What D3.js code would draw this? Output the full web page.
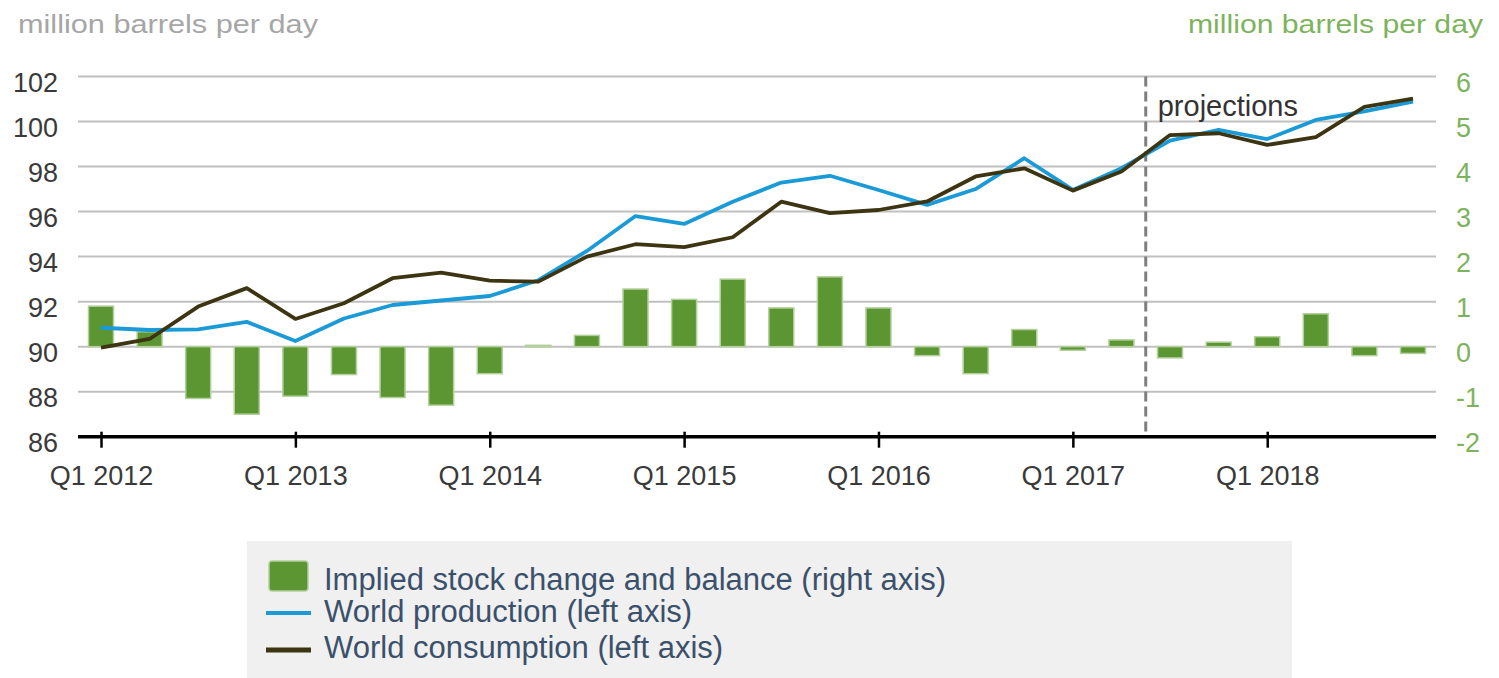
<!DOCTYPE html>
<html>
<head>
<meta charset="utf-8">
<script src="https://cdn.jsdelivr.net/npm/d3@7"></script>
<style>
  body { margin: 0; background: #fff; }
  svg { display: block; font-family: "Liberation Sans", Arial, sans-serif; }
</style>
</head>
<body>
<div id="chart"></div>
<script>
// quarters on the x axis
const quarters = [
  "2012Q1", "2012Q2", "2012Q3", "2012Q4",
  "2013Q1", "2013Q2", "2013Q3", "2013Q4",
  "2014Q1", "2014Q2", "2014Q3", "2014Q4",
  "2015Q1", "2015Q2", "2015Q3", "2015Q4",
  "2016Q1", "2016Q2", "2016Q3", "2016Q4",
  "2017Q1", "2017Q2", "2017Q3", "2017Q4",
  "2018Q1", "2018Q2", "2018Q3", "2018Q4"
];
const tickQuarters = ["2012Q1", "2013Q1", "2014Q1", "2015Q1", "2016Q1", "2017Q1", "2018Q1"];
const tickLabels = ["Q1 2012", "Q1 2013", "Q1 2014", "Q1 2015", "Q1 2016", "Q1 2017", "Q1 2018"];

// implied stock change and balance (right axis)
const balance = [
  0.9, 0.33, -1.15, -1.5, -1.1, -0.62, -1.13, -1.3,
  -0.6, 0.03, 0.25, 1.28, 1.05, 1.5, 0.86, 1.55,
  0.86, -0.2, -0.6, 0.38, -0.08, 0.15, -0.25, 0.1,
  0.22, 0.73, -0.2, -0.15
];
// world production (left axis)
const production = [
  90.84, 90.74, 90.77, 91.1, 90.25, 91.25, 91.85, 92.05,
  92.25, 92.95, 94.25, 95.8, 95.45, 96.44, 97.29, 97.59,
  96.96, 96.3, 97.0, 98.37, 96.96, 97.93, 99.15, 99.63,
  99.22, 100.07, 100.45, 100.88
];
// world consumption (left axis)
const consumption = [
  89.96, 90.34, 91.78, 92.6, 91.23, 91.93, 93.04, 93.29,
  92.93, 92.89, 94.0, 94.55, 94.42, 94.86, 96.44, 95.93,
  96.07, 96.45, 97.56, 97.92, 96.93, 97.78, 99.4, 99.48,
  98.96, 99.31, 100.65, 101.02
];
const leftTicks = [86, 88, 90, 92, 94, 96, 98, 100, 102];
const rightTicks = [-2, -1, 0, 1, 2, 3, 4, 5, 6];
const projectionStart = "2017Q3";
const legendItems = [
  "Implied stock change and balance (right axis)",
  "World production (left axis)",
  "World consumption (left axis)"
];

const width = 1499, height = 678;
const plotLeft = 78, plotRight = 1436, plotTop = 76.5, plotBottom = 436.7;

const svg = d3.select("#chart").append("svg")
  .attr("width", width)
  .attr("height", height);

const x = d3.scalePoint().domain(quarters).range([101, 1413]);
const yL = d3.scaleLinear().domain([86, 102]).range([plotBottom, plotTop]);
const yR = d3.scaleLinear().domain([-2, 6]).range([plotBottom, plotTop]);

// titles
svg.append("text")
  .attr("x", 18).attr("y", 33)
  .attr("font-size", 26)
  .attr("textLength", 300).attr("lengthAdjust", "spacingAndGlyphs")
  .attr("fill", "#a6a6a6")
  .text("million barrels per day");
svg.append("text")
  .attr("x", 1188).attr("y", 33)
  .attr("font-size", 26)
  .attr("textLength", 295).attr("lengthAdjust", "spacingAndGlyphs")
  .attr("fill", "#7db35c")
  .text("million barrels per day");

// gridlines
svg.append("g")
  .selectAll("line")
  .data(leftTicks.slice(1))
  .join("line")
  .attr("x1", plotLeft).attr("x2", plotRight)
  .attr("y1", d => yL(d)).attr("y2", d => yL(d))
  .attr("stroke", "#c0c0c0")
  .attr("stroke-width", 2);

// left axis labels
const leftAxis = svg.append("g")
  .attr("transform", "translate(" + plotLeft + ",0)")
  .call(d3.axisLeft(yL).tickValues(leftTicks).tickSize(0).tickPadding(20));
leftAxis.select(".domain").remove();
leftAxis.selectAll("text")
  .attr("font-size", 27)
  .attr("font-family", "Liberation Sans, Arial, sans-serif")
  .attr("fill", "#3a3a3a")
  .attr("dy", 15);

// right axis labels (plain hyphen for negatives, as in the source)
const rightAxis = svg.append("g")
  .attr("transform", "translate(" + plotRight + ",0)")
  .call(d3.axisRight(yR).tickValues(rightTicks).tickSize(0).tickPadding(20)
    .tickFormat(d => String(d)));
rightAxis.select(".domain").remove();
rightAxis.selectAll("text")
  .attr("font-size", 27)
  .attr("font-family", "Liberation Sans, Arial, sans-serif")
  .attr("fill", "#7db35c")
  .attr("dy", 15);

// bars
svg.append("g")
  .selectAll("rect")
  .data(balance)
  .join("rect")
  .attr("x", (d, i) => x(quarters[i]) - 12.5)
  .attr("width", 25)
  .attr("y", d => Math.min(yR(d), yR(0)))
  .attr("height", d => Math.abs(yR(d) - yR(0)))
  .attr("fill", "#5b9632")
  .attr("stroke", "#b3d09c")
  .attr("stroke-width", 1.5);

// projections divider
const xProj = x(projectionStart) - x.step() / 2;
svg.append("line")
  .attr("x1", xProj).attr("x2", xProj)
  .attr("y1", plotTop).attr("y2", plotBottom)
  .attr("stroke", "#7f7f7f")
  .attr("stroke-width", 3)
  .attr("stroke-dasharray", "10,5");
svg.append("text")
  .attr("x", xProj + 12).attr("y", 116)
  .attr("font-size", 29)
  .attr("fill", "#333")
  .text("projections");

// lines
const line = d3.line()
  .x((d, i) => x(quarters[i]))
  .y(d => yL(d));
svg.append("path")
  .datum(production)
  .attr("d", line)
  .attr("fill", "none")
  .attr("stroke", "#1a9ad6")
  .attr("stroke-width", 3.8)
  .attr("stroke-linejoin", "round");
svg.append("path")
  .datum(consumption)
  .attr("d", line)
  .attr("fill", "none")
  .attr("stroke", "#3d3412")
  .attr("stroke-width", 3.8)
  .attr("stroke-linejoin", "round");

// x axis
const xAxis = svg.append("g")
  .attr("transform", "translate(0," + plotBottom + ")")
  .call(d3.axisBottom(x).tickValues(tickQuarters)
    .tickFormat((d, i) => tickLabels[i]).tickSizeOuter(0));
xAxis.select(".domain").remove();
xAxis.append("line")
  .attr("x1", plotLeft).attr("x2", plotRight)
  .attr("stroke", "#000")
  .attr("stroke-width", 3.5);
xAxis.selectAll(".tick line")
  .attr("y1", -5).attr("y2", 11)
  .attr("stroke", "#000")
  .attr("stroke-width", 2.5);
xAxis.selectAll(".tick text")
  .attr("y", 48).attr("dy", 0)
  .attr("font-size", 27)
  .attr("font-family", "Liberation Sans, Arial, sans-serif")
  .attr("fill", "#3a3a3a");

// legend
const legend = svg.append("g");
legend.append("rect")
  .attr("x", 247).attr("y", 541)
  .attr("width", 1045).attr("height", 137)
  .attr("fill", "#f0f0f0");
legend.append("rect")
  .attr("x", 269).attr("y", 561)
  .attr("width", 39).attr("height", 30)
  .attr("rx", 3)
  .attr("fill", "#5b9632")
  .attr("stroke", "#b3d09c")
  .attr("stroke-width", 1.5);
legend.append("line")
  .attr("x1", 266).attr("x2", 311)
  .attr("y1", 613).attr("y2", 613)
  .attr("stroke", "#1a9ad6").attr("stroke-width", 4);
legend.append("line")
  .attr("x1", 266).attr("x2", 311)
  .attr("y1", 650).attr("y2", 650)
  .attr("stroke", "#3d3412").attr("stroke-width", 5);
legend.selectAll("text.item")
  .data(legendItems)
  .join("text")
  .attr("class", "item")
  .attr("x", 324)
  .attr("y", (d, i) => [590, 622, 658][i])
  .attr("font-size", 31)
  .attr("fill", "#3b506b")
  .text(d => d);
</script>
</body>
</html>
